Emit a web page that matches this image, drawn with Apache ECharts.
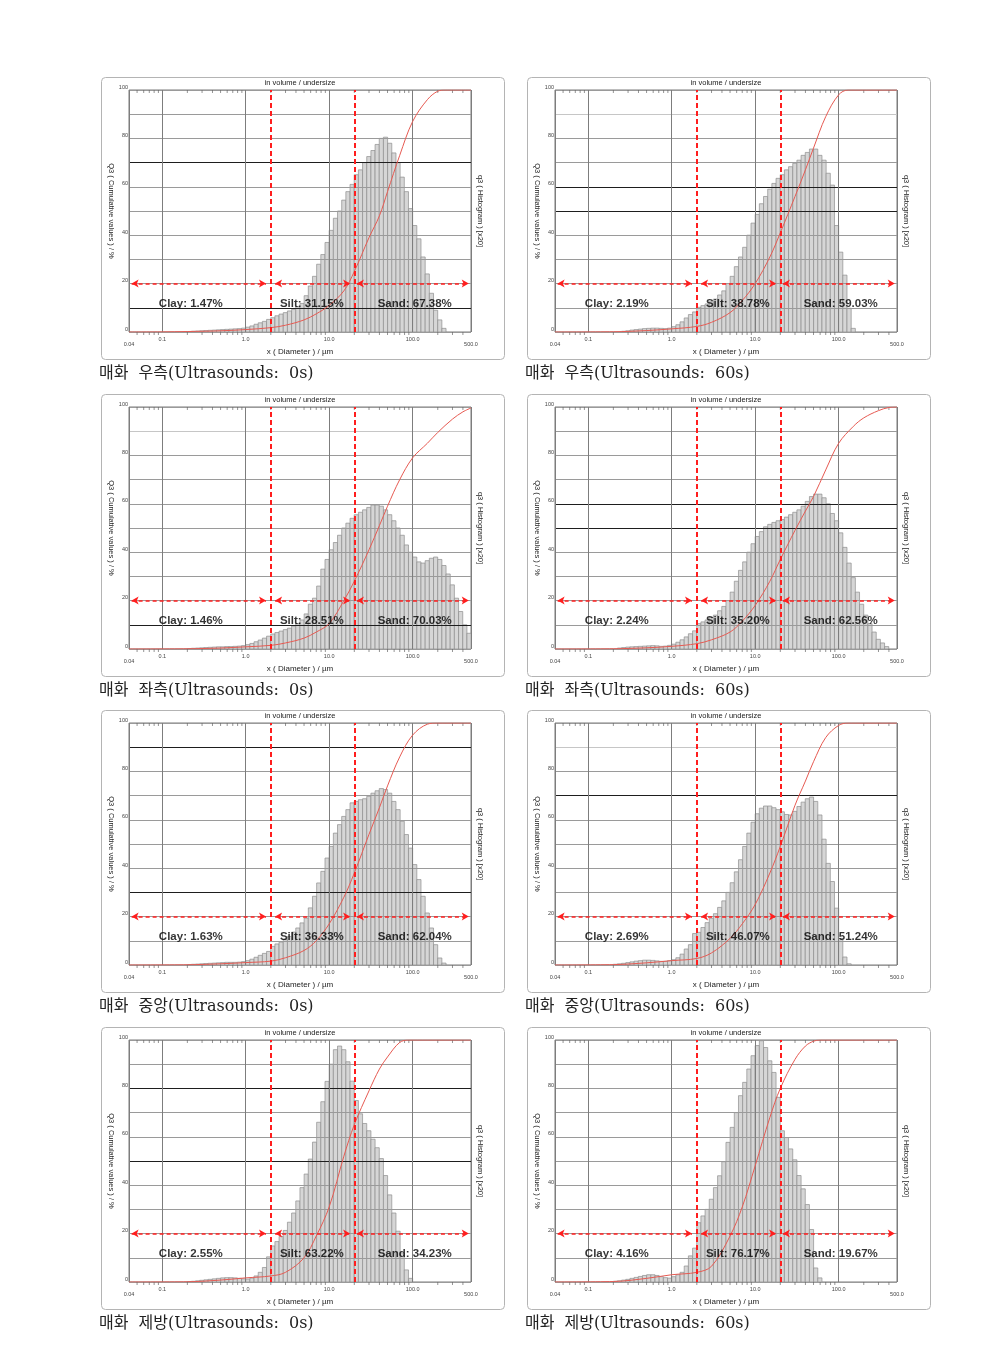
<!DOCTYPE html>
<html><head><meta charset="utf-8">
<script src="https://cdn.jsdelivr.net/npm/echarts@6/dist/echarts.min.js"></script>
<style>html,body{margin:0;padding:0;background:#fff}#c{width:996px;height:1354px}</style>
</head><body><div id="c"></div>
<script>
// ---------- data ----------
const captions = ['매화  우측(Ultrasounds:  0s)', '매화  우측(Ultrasounds:  60s)',
  '매화  좌측(Ultrasounds:  0s)', '매화  좌측(Ultrasounds:  60s)',
  '매화  중앙(Ultrasounds:  0s)', '매화  중앙(Ultrasounds:  60s)',
  '매화  제방(Ultrasounds:  0s)', '매화  제방(Ultrasounds:  60s)'];
const clayPct = [1.47, 2.19, 1.46, 2.24, 1.63, 2.69, 2.55, 4.16];
const siltPct = [31.15, 38.78, 28.51, 35.20, 36.33, 46.07, 63.22, 76.17];
const sandPct = [67.38, 59.03, 70.03, 62.56, 62.04, 51.24, 34.23, 19.67];
const clayLimit = 2, siltLimit = 20;          // µm class boundaries
const clayArrow = [0.043, 1.75], siltArrow = [2.25, 17.8], sandArrow = [21.5, 470];
const arrowLevel = 20;
const labelX = [0.22, 6.2, 106], labelY = 11.7;
const binsPerDecade = 20;
const histStart = [-14, -12, -14, -13, -14, -14, -14, -14];
const hist1 = [0.2,0.3,0.4,0.5,0.6,0.7,0.8,0.9,1.0,1.1,1.2,1.3,1.4,1.6,
  2.0,2.5,3.2,3.8,4.4,5.2,5.9,6.7,7.4,8.0,8.7,9.4,10.5,11.8,
  15,19,23,28,32,37,42,47,50,54.5,58,61,65,67,70,72.5,75,77.5,80,80.5,78,74,70,64,58,51,44,38.5,31,24,16,9,5,1.5];
const hist2 = [0.3,0.5,0.8,1.0,1.2,1.4,1.5,1.6,1.6,1.5,1.4,1.6,
  2.2,3.0,4.2,5.8,7.2,8.3,
  10.2,10.9,11.6,12.5,13.6,15.3,17,20,23,27,31,35,40,45,48.6,53,56,59,61.4,63.5,65,67,68.3,69.7,71,73,74.2,75.6,75.6,73,71,65.6,60.7,44,33,23.5,9.8,1.5];
const hist3 = [0.2,0.3,0.4,0.5,0.6,0.7,0.8,0.9,0.9,1.0,1.0,1.1,1.2,1.4,
  1.8,2.3,3.0,3.7,4.5,5.3,
  6.2,6.8,7.4,8.0,8.6,9.5,10.5,12,14.5,18.5,21,
  26,33,37,41,44,47,50,52,54,55.5,56.5,57.5,58.5,59.5,59.5,59,57.5,55.5,53,50,47,43,40,38,36,35.5,36.5,37.5,38,37,34.5,31,26.5,21,15.5,10,6.5];
const hist4 = [0.4,0.6,0.8,0.9,1.0,1.1,1.2,1.3,1.4,1.3,1.1,1.2,1.5,
  2.0,2.8,3.8,5.0,6.3,7.5,
  10.5,11.2,12,13,14,15.8,17.6,20,23.5,28,32.5,36,40,43.5,46.5,48.5,50.5,51.5,52.3,53,53.5,54.5,55.5,56.5,57.5,59,61,63,64,64,62.5,60,56,53,48,42,35.5,29.5,23.5,18.5,14,10.5,7,4,2.5,1];
const hist5 = [0.2,0.3,0.4,0.5,0.6,0.7,0.8,0.9,1.0,1.1,1.1,1.1,1.2,1.4,
  1.8,2.4,3.2,4.0,4.8,5.6,
  7.7,8.7,9.5,10.5,11.8,13.6,15.3,17.4,19.4,23.6,28.4,33.9,38.7,44.2,49,54.5,58,61.4,64.2,67,67.6,68.3,68.7,69.7,71,72,72.9,72.5,71,67.6,64.2,59.4,53.9,48.3,41.5,35.3,28.4,21.5,15.3,8.4,2.9,0.8];
const hist6 = [0.3,0.5,0.7,1.0,1.3,1.6,1.8,2.0,2.0,1.9,1.7,1.5,1.5,1.8,
  2.2,3.0,4.5,6.6,8.4,13,
  13.5,15.5,17.5,19.3,21.2,23.8,26.5,30,34,38.5,43.5,49,54.5,59,62.5,64.8,65.7,65.7,65,64.2,63.3,62.2,62,63.5,65.5,67.3,68.7,69.4,67.6,62,52,42,34.5,23.5,11,3.3,0.5];
const hist7 = [0.2,0.3,0.5,0.7,0.9,1.1,1.3,1.5,1.7,1.8,1.8,1.7,1.5,1.3,
  1.2,1.6,2.5,4,6,10.4,
  14.9,16.7,18.8,21.3,24.7,28.5,33.5,39,44.6,50.8,57.8,66,74.5,82.9,90,96,97.5,96,91,83,75,69.5,65.5,62.5,59,55.5,51,44,36,28.5,21,12,5,1.5];
const hist8 = [0.3,0.5,0.8,1.1,1.5,1.9,2.3,2.7,3.0,3.0,2.7,2.2,1.8,1.6,
  2.2,3.0,4.0,6.6,10.8,14,
  24.5,27.3,30,34.2,39,43.9,49.7,57.7,63.9,70,77,82.5,88,93.5,97.7,99.7,96.9,91.4,86.6,76.3,62.5,59.7,55,50.5,44,38.5,32,21.7,5.8,1.7];
const cum1 = [[0.04,0],[0.1,0.05],[0.2,0.2],[0.5,0.5],[1,1],[2,1.8],[3,2.8],[5,5],[7,7.5],[10,11],[15,17],[20,25],[30,39],[40,48],[50,58],[70,73],[100,87],[150,96],[200,99.5],[250,100],[500,100]];
const cum2 = [[0.04,0],[0.2,0.1],[0.5,0.6],[1,1.3],[2,2.3],[3,4],[5,8],[7,13],[10,20],[15,31],[20,41],[30,56],[40,67],[50,76],[70,89],[100,98],[130,100],[500,100]];
const cum3 = [[0.04,0],[0.2,0.1],[0.5,0.4],[1,0.9],[2,1.5],[3,2.5],[5,4.5],[7,7],[10,10.5],[15,20],[20,28],[30,41],[40,51],[50,59],[70,70],[100,79],[150,85],[200,89.5],[300,95],[400,98],[500,99.6]];
const cum4 = [[0.04,0],[0.2,0.1],[0.5,0.5],[1,1.1],[2,2.2],[3,3.8],[5,7],[7,11.5],[10,18],[15,28],[20,37],[30,49],[40,57],[50,63],[70,74],[100,85],[150,92],[200,95.5],[300,98.5],[400,99.8],[500,100]];
const cum5 = [[0.04,0],[0.2,0.1],[0.5,0.5],[1,1],[2,1.6],[3,3],[5,6],[7,10],[10,17],[15,28],[20,38],[30,54],[40,65],[50,74],[70,86],[100,95],[150,99.5],[200,100],[500,100]];
const cum6 = [[0.04,0],[0.2,0.15],[0.5,0.9],[1,1.8],[2,2.7],[3,5],[5,11],[7,17],[10,25],[15,38],[20,49],[30,66],[40,76],[50,84],[70,94],[100,99],[130,100],[500,100]];
const cum7 = [[0.04,0],[0.2,0.1],[0.5,0.8],[1,1.7],[2,2.5],[3,4],[5,10],[7,19],[10,31],[15,52],[20,65],[30,79],[40,88],[50,93],[70,99],[90,100],[500,100]];
const cum8 = [[0.04,0],[0.2,0.2],[0.5,1.5],[1,3],[2,4],[3,6.5],[5,19],[7,31],[10,48],[15,68],[20,80],[30,92],[40,97.5],[50,99.5],[60,100],[500,100]];
const yLevels = [0,10,20,30,40,50,60,70,80,90,100];
const darkLines = [[70,10],[60,50],[10],[60,50],[90,30],[70],[80,50],[]];
const lightLines = [[],[90],[90],[],[],[90],[],[]];

// ---------- build ----------
const hists = [hist1,hist2,hist3,hist4,hist5,hist6,hist7,hist8];
const cums = [cum1,cum2,cum3,cum4,cum5,cum6,cum7,cum8];
const colX = [98, 524];
const rowTop = [75, 392, 708, 1025];
const FONT = 'Liberation Sans, Arial, sans-serif';

const minorTicks = [];
for (let e = -2; e <= 2; e++) for (let m = 2; m <= 9; m++) {
  const v = +(m * Math.pow(10, e)).toPrecision(3);
  if (v > 0.04 && v < 500) minorTicks.push([v]);
}

function binData(start, h) {
  return h.map((v, j) => {
    const k = start + j;
    return [Math.pow(10, k / binsPerDecade), Math.pow(10, (k + 1) / binsPerDecade), v];
  });
}
function renderBar(params, api) {
  const a = api.coord([api.value(0), api.value(2)]);
  const b = api.coord([api.value(1), 0]);
  return { type: 'rect', shape: { x: a[0], y: a[1], width: b[0] - a[0], height: b[1] - a[1] },
    style: { fill: '#d6d6d6', stroke: '#8e8e8e', lineWidth: 0.7 } };
}
function renderTick(params, api) {
  const t = api.coord([api.value(0), 100]);
  const b = api.coord([api.value(0), 0]);
  return { type: 'group', children: [
    { type: 'line', shape: { x1: t[0], y1: t[1], x2: t[0], y2: t[1] + 3 }, style: { stroke: '#666', lineWidth: 0.7 } },
    { type: 'line', shape: { x1: b[0], y1: b[1], x2: b[0], y2: b[1] + 3 }, style: { stroke: '#666', lineWidth: 0.7 } }
  ] };
}

const grid = [], xAxis = [], yAxis = [], series = [], graphic = [];
for (let i = 0; i < 8; i++) {
  const cx = colX[i % 2], ry = rowTop[Math.floor(i / 2)];
  grid.push({ left: cx + 31, top: ry + 15, width: 342, height: 242, show: true,
    borderColor: '#7a7a7a', borderWidth: 1, backgroundColor: '#fff' });
  xAxis.push({ type: 'log', logBase: 10, min: 0.04, max: 500, gridIndex: i, position: 'bottom', z: 3,
    axisLine: { show: false }, axisTick: { show: false },
    splitLine: { show: true, lineStyle: { color: '#7d7d7d', width: 1 } },
    axisLabel: { fontSize: 5.5, color: '#444', margin: 4, showMinLabel: true, showMaxLabel: true, fontFamily: FONT,
      formatter: v => (v < 0.05) ? '{e|' + v.toFixed(2) + '}' : (v > 400 ? '{e|' + v.toFixed(1) + '}' : v.toFixed(1)),
      rich: { e: { fontSize: 5.5, color: '#444', padding: [5, 0, 0, 0], fontFamily: FONT } } },
    name: 'x ( Diameter ) / µm', nameLocation: 'middle', nameGap: 10,
    nameTextStyle: { fontSize: 8, color: '#222', fontFamily: FONT } });
  xAxis.push({ type: 'log', logBase: 10, min: 0.04, max: 500, gridIndex: i, position: 'top',
    axisLine: { show: false }, axisTick: { show: false }, axisLabel: { show: false }, splitLine: { show: false },
    name: 'in volume / undersize', nameLocation: 'middle', nameGap: 3,
    nameTextStyle: { fontSize: 7.5, color: '#222', fontFamily: FONT } });
  const lineColors = yLevels.map(v => darkLines[i].includes(v) ? '#1e1e1e' : (lightLines[i].includes(v) ? '#c6c6c6' : '#9a9a9a'));
  yAxis.push({ type: 'value', min: 0, max: 100, interval: 10, gridIndex: i, position: 'left', z: 3,
    axisLine: { show: false }, axisTick: { show: false },
    splitLine: { show: true, lineStyle: { color: lineColors, width: 1 } },
    axisLabel: { fontSize: 5.5, color: '#444', margin: 1, verticalAlign: 'bottom', fontFamily: FONT,
      formatter: v => (v % 20 === 0 ? String(v) : '') },
    name: 'Q3 ( Cumulative values ) / %', nameLocation: 'middle', nameGap: 9, nameRotate: -90,
    nameTextStyle: { fontSize: 7.5, color: '#222', fontFamily: FONT } });
  yAxis.push({ type: 'value', min: 0, max: 100, gridIndex: i, position: 'right',
    axisLine: { show: false }, axisTick: { show: false }, axisLabel: { show: false }, splitLine: { show: false },
    name: 'q3 ( Histogram ) [x20]', nameLocation: 'middle', nameGap: 5, nameRotate: -90,
    nameTextStyle: { fontSize: 7.5, color: '#222', fontFamily: FONT } });

  const xi = 2 * i, yi = 2 * i;
  series.push({ type: 'custom', xAxisIndex: xi, yAxisIndex: yi, z: 2, clip: true, silent: true,
    renderItem: renderBar, encode: { x: [0, 1], y: 2 }, data: binData(histStart[i], hists[i]) });
  series.push({ type: 'custom', xAxisIndex: xi, yAxisIndex: yi, z: 4, clip: false, silent: true,
    renderItem: renderTick, encode: { x: 0 }, data: minorTicks });
  series.push({ type: 'line', xAxisIndex: xi, yAxisIndex: yi, z: 6, smooth: 0.35, showSymbol: false, silent: true,
    lineStyle: { color: '#e65a52', width: 1 }, data: cums[i],
    markLine: { silent: true, symbol: 'none', z: 7, label: { show: false },
      lineStyle: { color: '#ff1e1e', width: 2, type: [5, 3] },
      data: [{ xAxis: clayLimit }, { xAxis: siltLimit }] } });
  series.push({ type: 'scatter', xAxisIndex: xi, yAxisIndex: yi, z: 8, silent: true,
    symbol: 'rect', symbolSize: 1, itemStyle: { color: 'rgba(0,0,0,0)' },
    label: { show: true, position: 'inside', fontSize: 11.5, fontWeight: 'bold', color: '#000',
      fontFamily: 'Liberation Sans, Arial, sans-serif', formatter: p => p.data[2] },
    data: [[labelX[0], labelY, 'Clay: ' + clayPct[i].toFixed(2) + '%'],
           [labelX[1], labelY, 'Silt: ' + siltPct[i].toFixed(2) + '%'],
           [labelX[2], labelY, 'Sand: ' + sandPct[i].toFixed(2) + '%']],
    markLine: { silent: true, z: 7, symbol: ['arrow', 'arrow'], symbolSize: [6, 7], label: { show: false },
      lineStyle: { color: '#ff1e1e', width: 1.5, type: [4, 3] },
      data: [[{ coord: [clayArrow[0], arrowLevel] }, { coord: [clayArrow[1], arrowLevel] }],
             [{ coord: [siltArrow[0], arrowLevel] }, { coord: [siltArrow[1], arrowLevel] }],
             [{ coord: [sandArrow[0], arrowLevel] }, { coord: [sandArrow[1], arrowLevel] }]] } });

  graphic.push({ type: 'rect', left: cx + 1, top: ry, silent: true, z: -1,
    shape: { width: 403, height: 282, r: 4 }, style: { fill: 'none', stroke: '#b4b4b4', lineWidth: 1 } });
  graphic.push({ type: 'text', left: cx + 1, top: ry + 291, silent: true,
    style: { text: captions[i], font: '16px "DejaVu Serif", "Noto Sans CJK KR", serif', fill: '#222' } });
}

const chart = echarts.init(document.getElementById('c'), null, { renderer: 'canvas' });
chart.setOption({ animation: false, backgroundColor: '#fff', textStyle: { fontFamily: FONT },
  grid, xAxis, yAxis, series, graphic });
</script></body></html>
